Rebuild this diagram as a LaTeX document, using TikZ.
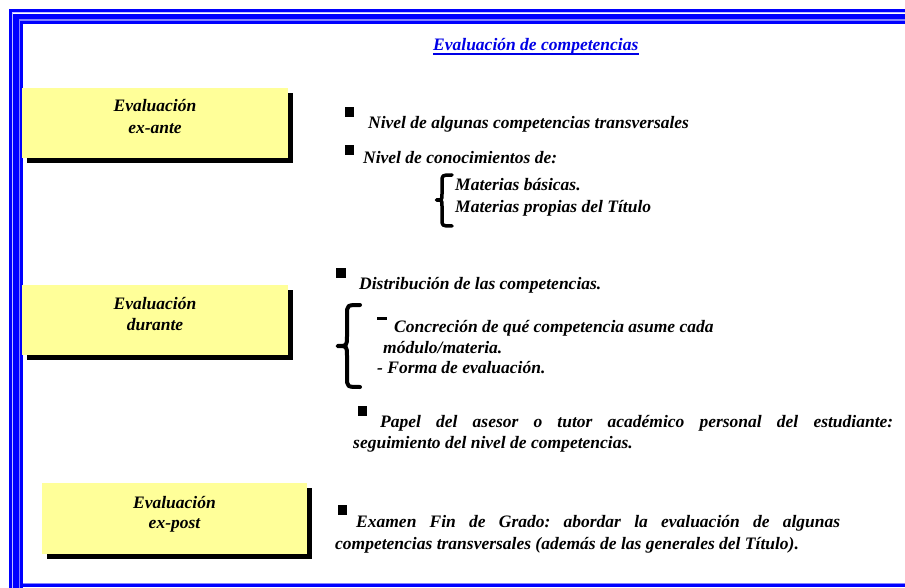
\documentclass[tikz,border=0pt]{standalone}
\usepackage{fontspec}
\setmainfont{Liberation Serif}
\usetikzlibrary{shadows}
\definecolor{fblue}{RGB}{0,0,255}
\definecolor{flav}{RGB}{190,190,255}
\definecolor{flight}{RGB}{130,130,255}
\definecolor{boxyellow}{RGB}{255,255,153}
\definecolor{titleblue}{RGB}{0,0,230}
\frenchspacing
\begin{document}
\begin{tikzpicture}[x=1pt,y=-1pt,
  txt/.style={inner sep=0pt, anchor=base west, font=\fontsize{17.5}{21.5}\selectfont\bfseries\itshape},
  ctxt/.style={txt, anchor=base},
  ybox/.style={rectangle, fill=boxyellow, inner sep=0pt, minimum height=70pt,
    drop shadow={shadow xshift=5pt, shadow yshift=-5pt, fill=black, opacity=1}},
  bul/.style={rectangle, fill=black, inner sep=0pt, minimum size=9.5pt},
  bracepath/.style={line width=3.5pt, line cap=round, line join=round},
  framebl/.style={draw=fblue, line width=3pt}
]
\useasboundingbox (0,0) rectangle (905,588);
\fill[white] (0,0) rectangle (905,588);
% frame
\draw[framebl] (10.5,600) -- (10.5,11) -- (920,11);
\draw[flav, line width=1.2pt] (12.6,600) -- (12.6,12.9) -- (920,12.9);
\draw[fblue, line width=5.5pt] (15.8,600) -- (15.8,16.6) -- (920,16.6);
\draw[flight, line width=2pt] (19.5,600) -- (19.5,20.4) -- (920,20.4);
\draw[framebl] (21.8,600) -- (21.8,23) -- (920,23);
\draw[flight, line width=1pt] (23.3,583) -- (920,583);
\draw[framebl] (20.3,585.5) -- (920,585.5);
% title
\node[txt, text=titleblue] (title) at (433,51) {Evaluación de competencias};
\draw[titleblue, line width=1.1pt] ([yshift=-3pt]title.base west) -- ([yshift=-3pt]title.base east);
% boxes
\node[ybox, minimum width=266pt] (b1) at (155,123) {};
\node[ctxt] (b1a) at (155,111.5) {Evaluación};
\node[ctxt] (b1b) at (155,133.5) {ex-ante};
\node[ybox, minimum width=266pt] (b2) at (155,320) {};
\node[ctxt] (b2a) at (155,309.5) {Evaluación};
\node[ctxt] (b2b) at (155,330.5) {durante};
\node[ybox, minimum width=265pt, minimum height=71pt] (b3) at (174.5,518.5) {};
\node[ctxt] (b3a) at (174.5,508.5) {Evaluación};
\node[ctxt] (b3b) at (174.5,528.5) {ex-post};
% ex-ante items
\node[bul] (s1) at (349.5,112) {};
\node[txt] (t1) at (368,128.5) {Nivel de algunas competencias transversales};
\node[bul] (s2) at (349.5,150) {};
\node[txt] (t2) at (363,163.5) {Nivel de conocimientos de:};
\draw[bracepath] (452,175) .. controls (442,175) .. (442,182) -- (442,194)
  .. controls (442,200) .. (436.5,200) .. controls (442,200) .. (442,206)
  -- (442,219) .. controls (442,226) .. (452,226);
\node[txt] (t3) at (455,190.5) {Materias básicas.};
\node[txt] (t4) at (455,212.5) {Materias propias del Título};
% durante items
\node[bul] (s3) at (341,273) {};
\node[txt] (t5) at (359,289.5) {Distribución de las competencias.};
\draw[bracepath, line width=4pt] (360,305) .. controls (347,305) .. (347,315) -- (347,336)
  .. controls (347,346) .. (337.5,346) .. controls (347,346) .. (347,356)
  -- (347,377) .. controls (347,387) .. (360,387);
\node[rectangle, fill=black, inner sep=0pt, minimum width=10pt, minimum height=3pt] (d1) at (381.5,318) {};
\node[txt] (t6) at (394,332.5) {Concreción de qué competencia asume cada};
\node[txt] (t7) at (383,353.5) {módulo/materia.};
\node[txt] (t8) at (377,373.5) {- Forma de evaluación.};
\node[bul] (s4) at (362.5,411) {};
\node[txt] (t9) at (380,427.5) {\makebox[513pt][s]{Papel del asesor o tutor académico personal del estudiante:}};
\node[txt] (t10) at (353,448.5) {seguimiento del nivel de competencias.};
% ex-post items
\node[bul] (s5) at (342.5,510) {};
\node[txt] (t11) at (356,527.5) {\makebox[484pt][s]{Examen Fin de Grado: abordar la evaluación de algunas}};
\node[txt] (t12) at (335,549.5) {competencias transversales (además de las generales del Título).};
\end{tikzpicture}
\end{document}
